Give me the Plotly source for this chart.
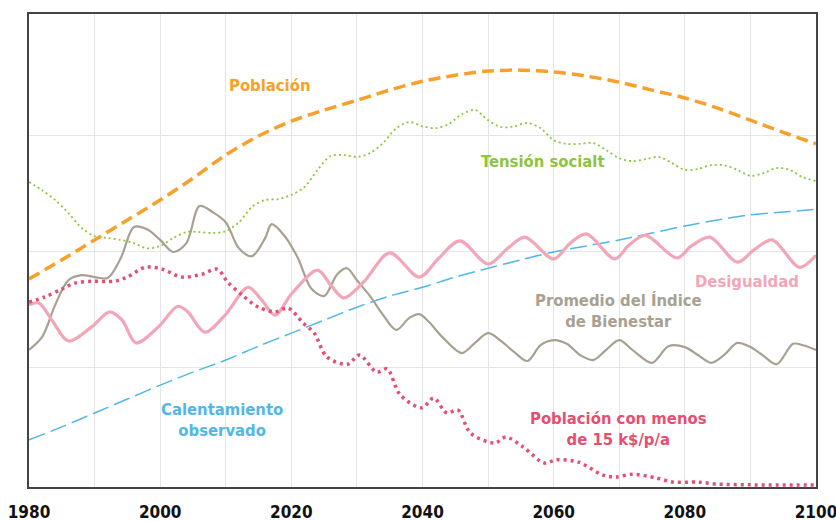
import plotly.graph_objects as go

# ---------------- data (index units; gridlines at 25/50/75) ----------------
pop_years = [1980, 1985, 1990, 1995, 2000, 2005, 2010, 2015, 2020, 2025, 2030, 2035, 2040,
             2045, 2050, 2055, 2060, 2065, 2070, 2075, 2080, 2085, 2090, 2095, 2100]
pop_vals = [44.0, 48.1, 52.4, 56.7, 61.0, 65.7, 70.7, 74.8, 78.0, 80.4, 82.5, 84.7, 86.6,
            87.9, 88.8, 89.0, 88.6, 87.7, 86.4, 84.7, 83.0, 80.8, 78.2, 75.6, 73.1]

warm_years = [1980, 1985, 1990, 1995, 2000, 2005, 2010, 2015, 2020, 2025, 2030, 2035, 2040,
              2045, 2050, 2055, 2060, 2065, 2070, 2075, 2080, 2085, 2090, 2095, 2100]
warm_vals = [9.3, 12.1, 15.1, 18.1, 21.1, 23.9, 26.5, 29.5, 32.3, 35.1, 37.9, 40.3, 42.2,
             44.4, 46.3, 48.1, 49.8, 51.1, 52.4, 53.9, 55.4, 56.7, 57.8, 58.4, 59.0]

tension_years = list(range(1980, 2101, 2))
tension_vals = [64.9, 63.1, 61.0, 58.2, 55.0, 53.2, 52.8, 52.4, 51.7, 50.6, 51.1, 52.8, 54.1,
                54.1, 53.9, 54.3, 56.2, 59.5, 61.0, 61.2, 62.1, 63.8, 67.5, 70.5, 70.7, 70.3,
                71.1, 73.3, 76.5, 77.8, 76.9, 76.5, 77.4, 79.5, 80.4, 78.2, 76.7, 76.9, 77.6,
                76.5, 73.9, 73.1, 73.1, 73.3, 71.8, 70.0, 69.4, 69.8, 70.3, 69.0, 67.5, 67.7,
                68.5, 68.5, 67.5, 66.2, 66.8, 67.9, 67.5, 65.9, 65.1]

wellbeing_years = [1980, 1982, 1984, 1986, 1988, 1990, 1992, 1994, 1996, 1998, 2000, 2002, 2004,
                   2006, 2008, 2010, 2012, 2014, 2016, 2017, 2019, 2021, 2023, 2025, 2027, 2028.5,
                   2030, 2032, 2034, 2036, 2038, 2039.5, 2041, 2043, 2046, 2048, 2050, 2052, 2054,
                   2056, 2058, 2060, 2062, 2064, 2066, 2068, 2070, 2072, 2075, 2077.5, 2080, 2082,
                   2084, 2086, 2088, 2090, 2092, 2094, 2096.5, 2098, 2100]
wellbeing_vals = [28.7, 31.5, 38.4, 43.7, 44.8, 44.4, 44.2, 48.5, 55.2, 54.7, 52.4, 49.8, 51.7,
                  59.7, 58.4, 56.2, 50.6, 48.9, 52.8, 55.8, 53.2, 48.5, 42.0, 40.3, 45.0, 46.3,
                  43.7, 40.3, 36.2, 33.0, 35.6, 36.4, 34.7, 31.5, 28.0, 30.2, 32.3, 30.6, 28.2,
                  26.3, 29.7, 30.8, 30.0, 27.6, 26.5, 28.7, 30.8, 28.7, 25.9, 29.5, 29.3, 27.6,
                  25.9, 27.6, 30.2, 29.3, 27.4, 25.6, 30.0, 29.7, 28.7]

inequality_years = [1980, 1981.5, 1983.5, 1986, 1989.5, 1992.3, 1994.2, 1996.3, 1999.7, 2002.7,
                    2004.2, 2006.8, 2009.9, 2013.4, 2015.5, 2017.5, 2020.1, 2024, 2026, 2028,
                    2031, 2035, 2039.5, 2042.5, 2045.7, 2050, 2053, 2055.6, 2060, 2062.5, 2065,
                    2069.3, 2071.5, 2074, 2078.8, 2081, 2083.8, 2088, 2090.5, 2093.3, 2097.5, 2100]
inequality_vals = [38.4, 38.8, 35.1, 30.6, 33.6, 36.9, 35.1, 30.2, 33.6, 38.1,
                   36.9, 32.5, 36.2, 42.2, 39.4, 36.2, 40.9, 45.9, 42.7, 39.9,
                   43.3, 49.6, 44.4, 48.5, 52.2, 47.2, 50.6, 53.0, 48.3, 51.7, 53.7,
                   48.3, 51.3, 53.4, 48.5, 51.1, 53.0, 47.6, 50.2, 52.4, 46.5, 49.1]

poor_years = [1980, 1982.4, 1985, 1987, 1989.6, 1993, 1995, 1997.7, 2000.3, 2003.3, 2006.4,
              2008.7, 2010.3, 2012.5, 2015, 2017.5, 2019.5, 2021.8, 2023.5, 2025.4, 2028.6,
              2030.4, 2033, 2034.6, 2036.6, 2039.9, 2041.7, 2043.7, 2045.4, 2047.3, 2051,
              2052.7, 2055.3, 2058.6, 2060.4, 2063.8, 2067.5, 2069.5, 2072, 2075.6, 2078.2,
              2082, 2084.7, 2090, 2100]
poor_vals = [39.0, 40.1, 41.8, 43.1, 43.5, 43.5, 44.4, 46.5, 46.1, 44.4, 45.0,
             46.1, 43.3, 40.5, 37.9, 36.9, 37.7, 34.5, 32.3, 27.2, 25.6,
             27.6, 23.9, 24.6, 19.0, 16.2, 18.3, 15.1, 15.7, 10.8, 8.6,
             9.9, 7.8, 4.3, 5.0, 4.5, 1.7, 1.3, 1.9, 1.1, 0.2,
             0.2, -0.2, -0.4, -0.4]

tick_years = [1980, 2000, 2020, 2040, 2060, 2080, 2100]
tick_labels = ["1980", "2000", "2020", "2040", "2060", "2080", "2100"]

# ---------------- style ----------------
FONT = "DejaVu Sans Condensed, Liberation Sans Narrow, Arial Narrow, sans-serif"
C_POP = "#f7a12b"
C_WARM = "#52b7e8"
C_TEN = "#8cc540"
C_WELL = "#a8a192"
C_INEQ = "#f3a6b7"
C_POOR = "#e44f72"

fig = go.Figure()

def add(x, y, color, width, dash, smooth=0.9):
    fig.add_trace(go.Scatter(x=x, y=y, mode="lines",
                             line=dict(color=color, width=width, dash=dash,
                                       shape="spline", smoothing=smooth),
                             hoverinfo="skip", showlegend=False))

add(warm_years, warm_vals, C_WARM, 1.5, "17px,6px")
add(tension_years, tension_vals, C_TEN, 1.8, "2px,3px")
add(wellbeing_years, wellbeing_vals, C_WELL, 2.2, "solid")
add(inequality_years, inequality_vals, C_INEQ, 3.2, "solid")
add(poor_years, poor_vals, C_POOR, 3.5, "3px,4px")
add(pop_years, pop_vals, C_POP, 3.5, "12px,6px")

def label(x, y, text, color):
    fig.add_annotation(x=x, y=y, xref="x", yref="y", text="<b>" + text + "</b>",
                       showarrow=False, align="center",
                       font=dict(family=FONT, size=16.5, color=color))

label(2016.7, 85.7, "Población", C_POP)
label(2058.4, 69.2, "Tensión socialt", C_TEN)
label(2089.5, 43.5, "Desigualdad", C_INEQ)
label(2069.9, 37.1, "Promedio del Índice<br>de Bienestar", C_WELL)
label(2009.5, 13.6, "Calentamiento<br>observado", C_WARM)
label(2069.9, 11.6, "Población con menos<br>de 15 k$/p/a", C_POOR)

GRID = "#e6e6e6"
fig.update_layout(
    width=836, height=521,
    margin=dict(l=29, r=20, t=14, b=34, autoexpand=False),
    paper_bgcolor="white", plot_bgcolor="white",
    font=dict(family=FONT),
)
fig.update_xaxes(
    range=[1980, 2100], tickvals=tick_years, ticktext=[f"<b>{t}</b>" for t in tick_labels],
    tickfont=dict(family=FONT, size=17, color="#111111"),
    ticklabeloverflow="allow", automargin=False,
    showgrid=True, gridcolor=GRID, gridwidth=1.3,
    minor=dict(dtick=10, tick0=1980, showgrid=True, gridcolor=GRID, gridwidth=1.3),
    ticks="outside", ticklen=9, tickcolor="rgba(0,0,0,0)",
    showline=True, mirror=True, linecolor="#444444", linewidth=1.5, zeroline=False,
)
fig.update_yaxes(
    range=[-0.86, 101.1], tickvals=[25, 50, 75], showticklabels=False, automargin=False,
    showgrid=True, gridcolor=GRID, gridwidth=1.3,
    showline=True, mirror=True, linecolor="#444444", linewidth=1.5, zeroline=False,
)

fig.write_html("out.html", config={"displayModeBar": False},
               post_script="document.body.style.margin='0';document.body.style.overflow='hidden';")
